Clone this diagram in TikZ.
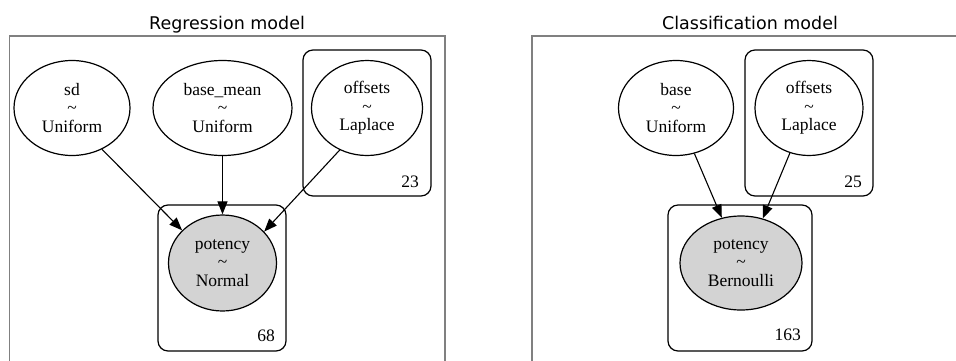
\documentclass[tikz,border=0pt]{standalone}
\usepackage{fontspec}
\setmainfont{Liberation Serif}
\newfontfamily\titlefont{DejaVu Sans}
\usetikzlibrary{arrows.meta,shapes.geometric}
\definecolor{framegray}{gray}{0.5}
\definecolor{obsgray}{HTML}{D3D3D3}
\begin{document}
\begin{tikzpicture}[x=1pt,y=-1pt,
  rv/.style={ellipse,draw,line width=1.2pt,inner sep=0pt,align=center,
    font=\fontsize{17.5}{18.5}\selectfont,minimum height=95pt},
  obs/.style={rv,fill=obsgray},
  plate/.style={draw,rounded corners=10pt,line width=1.2pt,inner sep=0pt,minimum height=146pt},
  frame/.style={draw=framegray,line width=1.5pt},
  edge/.style={-{Triangle[length=13pt,width=10pt]},line width=1.1pt},
  count/.style={anchor=base east,inner sep=0pt,font=\fontsize{17.5}{18.5}\selectfont},
  title/.style={anchor=base,inner sep=0pt,font=\titlefont\fontsize{17.5}{21}\selectfont}]
\useasboundingbox (0,0) rectangle (956,360);
\begin{scope}
\clip (0,0) rectangle (956,360);
% frames
\draw[frame] (9.5,36) rectangle (445,375);
\draw[frame] (532,36) rectangle (968,375);
\end{scope}
% titles
\node[title] (t1) at (227,29) {Regression model};
\node[title] (t2) at (750,29) {Classification model};
% plates
\node[plate,minimum width=128pt] (plA) at (367,123) {};
\node[plate,minimum width=128pt] (plP) at (222,278) {};
\node[plate,minimum width=128pt] (plB) at (809,123) {};
\node[plate,minimum width=144pt] (plQ) at (740,278) {};
\node[count] (c23) at (419,187) {23};
\node[count] (c68) at (275,341) {68};
\node[count] (c25) at (862,187) {25};
\node[count] (c163) at (801,340) {163};
% left model
\node[rv,minimum width=116pt] (sd) at (72,108) {sd\\\textasciitilde\\Uniform};
\node[rv,minimum width=139pt] (bm) at (222.5,108) {base\_mean\\\textasciitilde\\Uniform};
\node[rv,minimum width=111pt] (offA) at (367,108) {offsets\\\textasciitilde\\Laplace};
\node[obs,minimum width=108pt,minimum height=96pt] (potA) at (222.5,263) {potency\\\textasciitilde\\Normal};
% right model
\node[rv,minimum width=115pt] (base) at (676,108) {base\\\textasciitilde\\Uniform};
\node[rv,minimum width=108pt] (offB) at (809,108) {offsets\\\textasciitilde\\Laplace};
\node[obs,minimum width=122pt,minimum height=94pt] (potB) at (741,263) {potency\\\textasciitilde\\Bernoulli};
% edges
\draw[edge] (sd.-54) -- (potA.141);
\draw[edge] (bm.south) -- (potA.north);
\draw[edge] (offA.-123) -- (potA.37);
\draw[edge] (base.-68) -- (potB.113);
\draw[edge] (offB.-113) -- (potB.64);
\end{tikzpicture}
\end{document}
